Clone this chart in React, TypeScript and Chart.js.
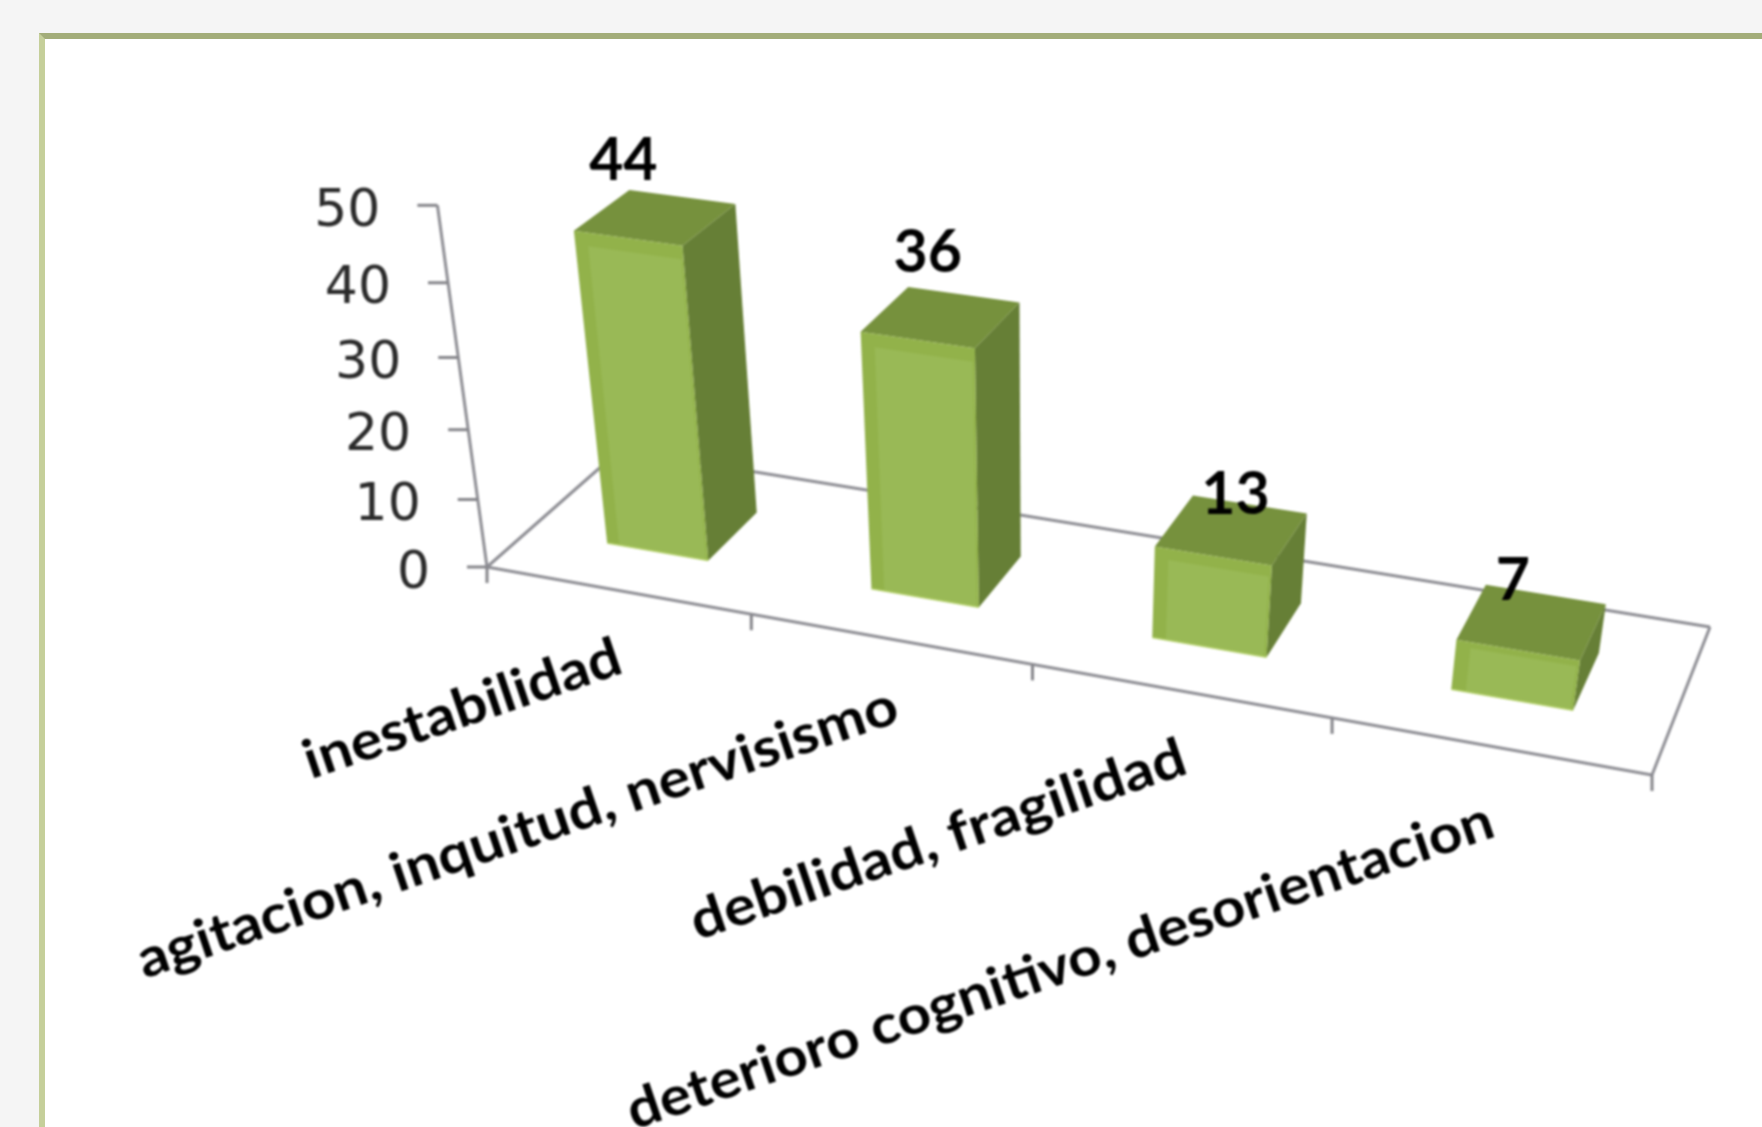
import React, { useEffect, useRef } from "react";
import { Chart, registerables } from "chart.js";

Chart.register(...registerables);

const categories = [
  "inestabilidad",
  "agitacion, inquitud, nervisismo",
  "debilidad, fragilidad",
  "deterioro cognitivo, desorientacion",
];
const values = [44, 36, 13, 7];
const yMin = 0;
const yMax = 50;
const yStep = 10;

// 3D view of the floor (picture geometry, not data)
const FLOOR = { fl: [487, 567], fr: [1652, 775], br: [1710, 627], bl: [620, 450] };
const VANISH = [1040, 4600];
const RISE = -0.0823;
const DEPTH_FRONT = 0.305;
const DEPTH_BACK = 0.7;
const LABEL_NUDGE = [
  [-32, -56],
  [-13, -64],
  [4, -35],
  [-19, -41],
];
const CATEGORY_WIDTH = [332, 800, 520, 912];
const CATEGORY_NUDGE = [
  [8, 82],
  [12, 82],
  [10, 82],
  [8, 90],
];

function makeProjector() {
  const [x0, y0] = FLOOR.fl;
  const [x1, y1] = FLOOR.fr;
  const [x2, y2] = FLOOR.br;
  const [x3, y3] = FLOOR.bl;
  const dx1 = x1 - x2, dx2 = x3 - x2, sx = x0 - x1 + x2 - x3;
  const dy1 = y1 - y2, dy2 = y3 - y2, sy = y0 - y1 + y2 - y3;
  const den = dx1 * dy2 - dx2 * dy1;
  const g = (sx * dy2 - dx2 * sy) / den;
  const h = (dx1 * sy - sx * dy1) / den;
  const a = x1 - x0 + g * x1, b = x3 - x0 + h * x3;
  const d = y1 - y0 + g * y1, e = y3 - y0 + h * y3;
  return (u: number, v: number, t: number): [number, number] => {
    const k = RISE * t;
    const W = g * u + h * v + 1 + k;
    return [
      (a * u + b * v + x0 + k * VANISH[0]) / W,
      (d * u + e * v + y0 + k * VANISH[1]) / W,
    ];
  };
}

const project = makeProjector();

function poly(ctx: CanvasRenderingContext2D, pts: [number, number][], fill: string) {
  ctx.beginPath();
  pts.forEach((p, i) => (i ? ctx.lineTo(p[0], p[1]) : ctx.moveTo(p[0], p[1])));
  ctx.closePath();
  ctx.fillStyle = fill;
  ctx.fill();
}

function seg(ctx: CanvasRenderingContext2D, a: [number, number], b: [number, number]) {
  ctx.beginPath();
  ctx.moveTo(a[0], a[1]);
  ctx.lineTo(b[0], b[1]);
  ctx.stroke();
}

const bars3d = {
  id: "bars3d",
  beforeDatasetsDraw() {
    return false;
  },
  afterDraw(chart: any) {
    const ctx: CanvasRenderingContext2D = chart.ctx;
    const xs = chart.scales.x;
    const ys = chart.scales.y;
    const U = (px: number) => (px - xs.left) / (xs.right - xs.left);
    const T = (val: number) => (ys.bottom - ys.getPixelForValue(val)) / (ys.bottom - ys.top);

    ctx.save();
    // floor and wall axis
    ctx.strokeStyle = "#8e8e94";
    ctx.lineWidth = 3;
    ctx.lineCap = "butt";
    seg(ctx, project(0, 0, 0), project(1, 0, 0));
    seg(ctx, project(1, 0, 0), project(1, 1, 0));
    seg(ctx, project(1, 1, 0), project(0, 1, 0));
    seg(ctx, project(0, 1, 0), project(0, 0, 0));
    seg(ctx, project(0, 0, 0), project(0, 0, 1));

    // value ticks and labels
    ctx.font = "52px 'DejaVu Sans'";
    ctx.textAlign = "right";
    ctx.textBaseline = "middle";
    ys.ticks.forEach((tick: any) => {
      const p = project(0, 0, T(tick.value));
      ctx.strokeStyle = "#85858a";
      seg(ctx, p, [p[0] - 20, p[1]]);
      ctx.fillStyle = "#2a2a2a";
      ctx.fillText(String(tick.value), p[0] - 57, p[1] + 7);
    });

    // category ticks
    for (let i = 0; i <= categories.length; i++) {
      const p = project(U(xs.getPixelForValue(i - 0.5)), 0, 0);
      ctx.strokeStyle = "#85858a";
      seg(ctx, p, [p[0], p[1] + 16]);
    }

    // bars
    const meta = chart.getDatasetMeta(0);
    meta.data.forEach((el: any) => {
      const u0 = U(el.x - el.width / 2);
      const u1 = U(el.x + el.width / 2);
      const t = (el.base - el.y) / (ys.bottom - ys.top);
      const vf = DEPTH_FRONT;
      const vb = DEPTH_BACK;
      poly(ctx, [project(u1, vf, 0), project(u1, vb, 0), project(u1, vb, t), project(u1, vf, t)], "#667f36");
      poly(ctx, [project(u0, vf, t), project(u1, vf, t), project(u1, vb, t), project(u0, vb, t)], "#76913d");
      poly(ctx, [project(u0, vf, 0), project(u1, vf, 0), project(u1, vf, t), project(u0, vf, t)], "#92b24a");
      const du = u1 - u0;
      const inset = Math.min(0.036, t * 0.12);
      poly(
        ctx,
        [
          project(u0 + du * 0.12, vf, 0),
          project(u1 - du * 0.02, vf, 0),
          project(u1 - du * 0.02, vf, t - inset),
          project(u0 + du * 0.12, vf, t - inset),
        ],
        "#99b956"
      );
      ctx.strokeStyle = "#b3d068";
      ctx.lineWidth = 1.5;
      seg(ctx, project(u0, vf, 0), project(u1, vf, 0));
    });

    // value labels
    ctx.font = "bold 59px Lato";
    ctx.textAlign = "center";
    ctx.textBaseline = "middle";
    ctx.fillStyle = "#000000";
    meta.data.forEach((el: any, i: number) => {
      const p = project(U(el.x), (DEPTH_FRONT + DEPTH_BACK) / 2, (el.base - el.y) / (ys.bottom - ys.top));
      ctx.fillText(String(values[i]), p[0] + LABEL_NUDGE[i][0], p[1] + LABEL_NUDGE[i][1]);
    });

    // category labels
    ctx.font = "bold 54px Lato";
    ctx.textAlign = "right";
    ctx.textBaseline = "alphabetic";
    categories.forEach((label, i) => {
      const p = project(U(xs.getPixelForValue(i)), 0, 0);
      ctx.save();
      ctx.translate(p[0] + CATEGORY_NUDGE[i][0], p[1] + CATEGORY_NUDGE[i][1]);
      ctx.rotate((-18.8 * Math.PI) / 180);
      const w = ctx.measureText(label).width;
      ctx.scale(CATEGORY_WIDTH[i] / w, 1);
      ctx.fillStyle = "#000000";
      ctx.fillText(label, 0, 0);
      ctx.restore();
    });
    ctx.restore();
  },
};

export default function App() {
  const ref = useRef<HTMLCanvasElement>(null);
  useEffect(() => {
    const chart = new Chart(ref.current as HTMLCanvasElement, {
      type: "bar",
      data: {
        labels: categories,
        datasets: [
          {
            data: values,
            backgroundColor: "#99b956",
            barPercentage: 0.39,
            categoryPercentage: 1,
          },
        ],
      },
      options: {
        responsive: false,
        animation: false,
        devicePixelRatio: 1,
        layout: { padding: 0 },
        plugins: { legend: { display: false }, tooltip: { enabled: false } },
        scales: {
          x: { type: "category", display: false, offset: true },
          y: { type: "linear", display: false, min: yMin, max: yMax, ticks: { stepSize: yStep } },
        },
      },
      plugins: [bars3d],
    } as any);
    return () => chart.destroy();
  }, []);
  return (
    <div style={{ position: "fixed", inset: 0, overflow: "hidden", background: "#f5f5f5" }}>
      <div
        style={{
          position: "absolute",
          left: 39,
          top: 33,
          width: 1800,
          height: 1200,
          boxSizing: "border-box",
          background: "#ffffff",
          borderTop: "6px solid #a3ad7a",
          borderLeft: "6px solid #c5cf9a",
        }}
      />
      <canvas
        ref={ref}
        width={1762}
        height={1127}
        style={{ position: "absolute", left: 0, top: 0, width: 1762, height: 1127, filter: "blur(0.9px)" }}
      />
    </div>
  );
}
